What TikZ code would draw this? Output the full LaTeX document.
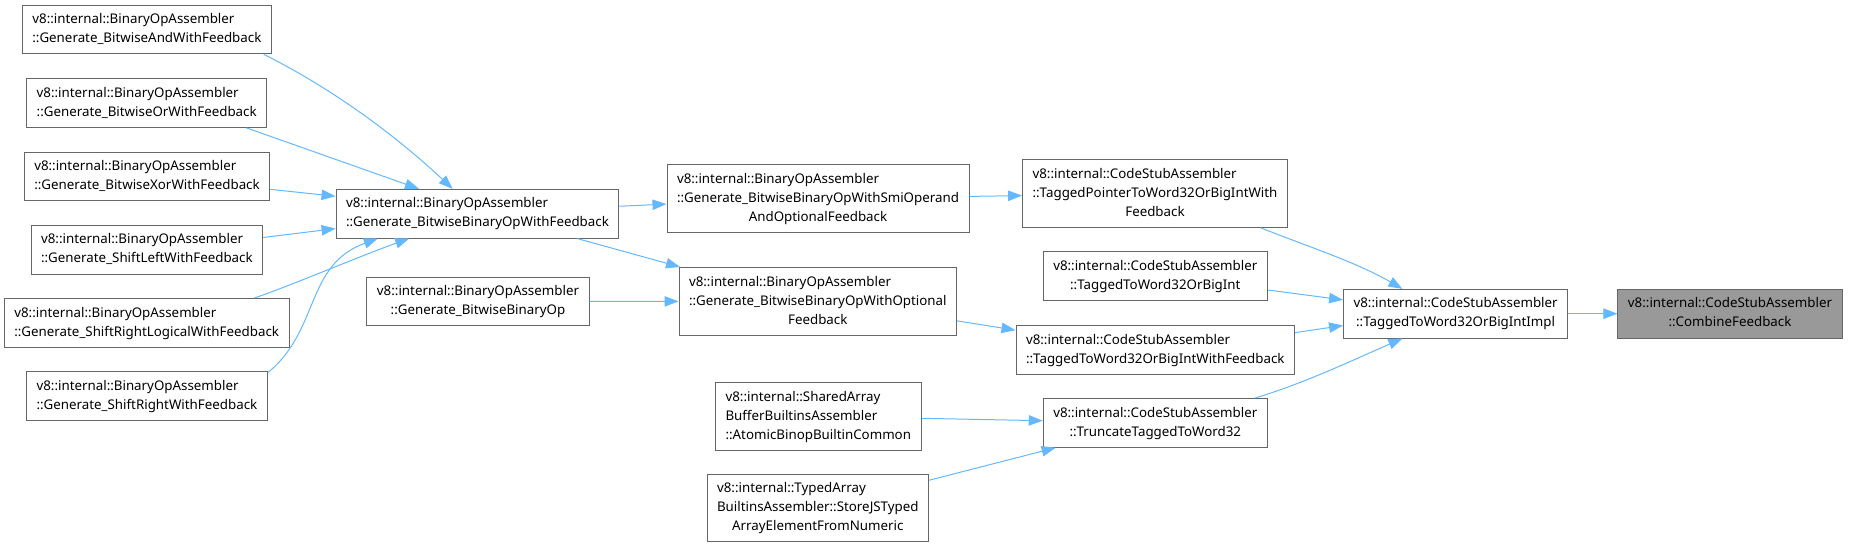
\documentclass[tikz,border=0pt]{standalone}
\usepackage{fontspec}
\setmainfont{Noto Sans}
\usetikzlibrary{arrows.meta}
\definecolor{dxedge}{HTML}{63B8FF}
\definecolor{dxline}{HTML}{666666}
\definecolor{dxroot}{HTML}{999999}
% all lines but the last flush left, the last one centred
\newcommand{\fnlab}[2]{\begin{tabular}{@{}l@{}}#1\\\multicolumn{1}{@{}c@{}}{#2}\end{tabular}}
\tikzset{
  fn/.style={
    draw=dxline, line width=0.75pt, fill=white,
    inner xsep=7.5pt, inner ysep=4pt,
    font=\fontsize{10pt}{14.25pt}\selectfont
  },
  fnroot/.style={fn, fill=dxroot},
  call/.style={-{Triangle[length=10.5pt,width=7.8pt]}, draw=dxedge, line width=0.75pt}
}

\begin{document}
\begin{tikzpicture}[x=0.75pt, y=-0.75pt]
  \useasboundingbox (0,0) rectangle (1849,548);
  % callers of the feedback variant
  \node[fn] (andfb) at (146.9,29.5) {\fnlab{v8::internal::BinaryOpAssembler}{::Generate\_BitwiseAndWithFeedback}};
  \node[fn] (orfb) at (146.7,103) {\fnlab{v8::internal::BinaryOpAssembler}{::Generate\_BitwiseOrWithFeedback}};
  \node[fn] (xorfb) at (147,176.4) {\fnlab{v8::internal::BinaryOpAssembler}{::Generate\_BitwiseXorWithFeedback}};
  \node[fn] (shl) at (146.9,249.7) {\fnlab{v8::internal::BinaryOpAssembler}{::Generate\_ShiftLeftWithFeedback}};
  \node[fn] (shrl) at (146.7,322.8) {\fnlab{v8::internal::BinaryOpAssembler}{::Generate\_ShiftRightLogicalWithFeedback}};
  \node[fn] (shr) at (146.9,396.2) {\fnlab{v8::internal::BinaryOpAssembler}{::Generate\_ShiftRightWithFeedback}};
  % binary op generators
  \node[fn] (bofb) at (477.5,213.7) {\fnlab{v8::internal::BinaryOpAssembler}{::Generate\_BitwiseBinaryOpWithFeedback}};
  \node[fn] (bbo) at (478,301.5) {\fnlab{v8::internal::BinaryOpAssembler}{::Generate\_BitwiseBinaryOp}};
  \node[fn] (smi) at (818,198.8) {\fnlab{v8::internal::BinaryOpAssembler\\::Generate\_BitwiseBinaryOpWithSmiOperand}{AndOptionalFeedback}};
  \node[fn] (optfb) at (817.8,301.3) {\fnlab{v8::internal::BinaryOpAssembler\\::Generate\_BitwiseBinaryOpWithOptional}{Feedback}};
  \node[fn] (shared) at (818.3,416.3) {\fnlab{v8::internal::SharedArray\\BufferBuiltinsAssembler}{::AtomicBinopBuiltinCommon}};
  \node[fn] (typed) at (817.8,508) {\fnlab{v8::internal::TypedArray\\BuiltinsAssembler::StoreJSTyped}{ArrayElementFromNumeric}};
  % code stub assembler
  \node[fn] (tptr) at (1155,193.5) {\fnlab{v8::internal::CodeStubAssembler\\::TaggedPointerToWord32OrBigIntWith}{Feedback}};
  \node[fn] (tbig) at (1155.3,276.2) {\fnlab{v8::internal::CodeStubAssembler}{::TaggedToWord32OrBigInt}};
  \node[fn] (tbigfb) at (1155.3,349.8) {\fnlab{v8::internal::CodeStubAssembler}{::TaggedToWord32OrBigIntWithFeedback}};
  \node[fn] (trunc) at (1155.3,422.9) {\fnlab{v8::internal::CodeStubAssembler}{::TruncateTaggedToWord32}};
  \node[fn] (impl) at (1455.6,313.7) {\fnlab{v8::internal::CodeStubAssembler}{::TaggedToWord32OrBigIntImpl}};
  \node[fnroot] (comb) at (1730,313.7) {\fnlab{v8::internal::CodeStubAssembler}{::CombineFeedback}};
  % calls
  \draw[call] (andfb.-12) .. controls (329,87) and (391.7,131.9) .. (bofb.135);
  \draw[call] (orfb.-14) -- (bofb.157);
  \draw[call] (xorfb.-6) -- (bofb.173);
  \draw[call] (shl.6) -- (bofb.-174);
  \draw[call] (shrl.13) .. controls (285,288) and (360,256) .. (bofb.-160);
  \draw[call] (shr.11) .. controls (320,330) and (305,265) .. (bofb.-166);
  \draw[call] (bofb.3) -- (smi.-178);
  \draw[call] (bofb.-14) -- (optfb.166);
  \draw[call] (bbo) -- (optfb);
  \draw[call] (smi) -- (tptr);
  \draw[call] (optfb.-8) -- (tbigfb.172);
  \draw[call] (shared) -- (trunc);
  \draw[call] (typed.14) -- (trunc.-166);
  \draw[call] (tptr.-18) .. controls (1309,247) and (1356,262) .. (impl.155);
  \draw[call] (tbig.-7) -- (impl.173);
  \draw[call] (tbigfb.7) -- (impl.-174);
  \draw[call] (trunc.14) .. controls (1305,383) and (1353,360) .. (impl.-155);
  \draw[call] (impl) -- (comb);
\end{tikzpicture}
\end{document}
